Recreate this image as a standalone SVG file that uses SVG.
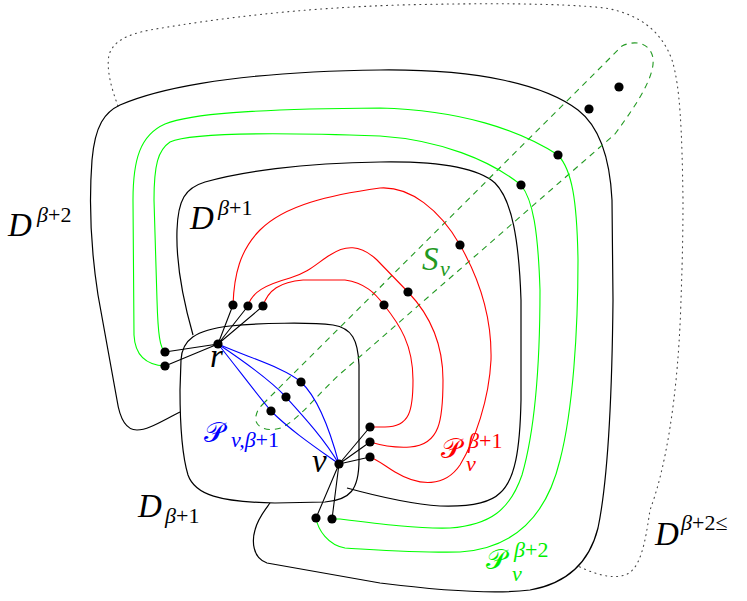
<svg xmlns="http://www.w3.org/2000/svg" width="747" height="601" viewBox="0 0 747 601">
<style>
.k{fill:none;stroke:#000;stroke-width:1.2}
.g{fill:none;stroke:#00ff00;stroke-width:1.1}
.rd{fill:none;stroke:#ff0000;stroke-width:1.1}
.b{fill:none;stroke:#0000ff;stroke-width:1.1}
.sv{fill:none;stroke:#229922;stroke-width:1.1;stroke-dasharray:6 5}
.dot{fill:none;stroke:#444;stroke-width:1.1;stroke-dasharray:1 4.5;stroke-linecap:round}
.e{fill:none;stroke:#000;stroke-width:1.1}
.n{fill:#000}
text{font-family:"Liberation Serif","DejaVu Serif",serif;font-style:italic}
.big{font-size:33px}
.sm{font-size:22px}
.up{font-style:normal}
.cal{font-family:"DejaVu Sans","DejaVu Serif","Noto Sans",sans-serif;font-style:normal;font-size:28px}
</style>
<g id="regions">
<path id="D-beta2-le" class="dot" d="M118,106 C112,90 106,70 109,55 C113,42 125,35 150,30 C220,18 300,8 400,5 C480,3 560,3 605,8 C640,14 662,32 672,60 C680,85 682,130 683,200 C683,240 682,270 681,300 C678,400 665,470 650,510 C645,545 640,570 625,575 C610,580 590,572 578,566"/>
<path id="D-beta2" class="k" d="M180,412 C160,422 148,430 137,430 C126,430 120,420 117,400 L98,295 C91,250 89,200 92,160 C95,125 105,112 120,105 C150,92 220,72 380,70 C480,69 545,85 578,110 C600,127 610,160 612,200 L613,300 C612,400 608,480 598,528 C590,560 570,583 530,590 C490,595 420,588 380,583 L267,563 C252,558 252,540 255,530 C258,518 265,510 270,503"/>
<path id="D-beta1-up" class="k" d="M193,335 C183,300 176,260 177,230 C178,200 185,188 205,182 C240,172 300,163 380,162 C440,161 478,168 495,183 C512,200 519,240 521,300 L521,400 C520,450 515,480 500,493 C490,503 470,507 440,506 C410,504 380,497 347,488"/>
<path id="D-beta1-low" class="k" d="M181,360 C182,340 195,330 230,326 C260,323 310,322 333,325 C352,328 358,340 359,365 L359,460 C359,490 350,500 325,502 L275,503 C220,502 195,495 188,475 C182,455 180,420 180,390 Z"/>
<path id="S_v" class="sv" d="M263,404 L622,46 C634,40 650,42 653,58 C655,75 640,100 615,134 L340,374 C318,394 300,418 283,427 C270,433 253,428 256,416 C257,410 260,407 263,404 Z"/>
</g>
<g id="connectors">
<path class="g" d="M165,366 C145,365 135,355 134,335 L133,200 C133,160 140,135 165,124 C190,114 250,109 380,108 C460,110 520,130 558,155 C572,170 577,200 578,260 C578,330 573,410 560,460 C548,510 520,548 460,552 C420,553 380,550 345,548 C328,545 318,530 316,518"/>
<path class="g" d="M165,352 C160,348 158,335 157,300 L154,200 C154,165 158,150 170,142 C185,135 240,131 380,136 C440,140 490,160 521,185 C533,200 538,230 540,290 C540,360 535,430 522,475 C510,510 490,525 450,528 C420,529 380,524 340,519 L332,519"/>
<path class="rd" d="M233,305 C234,275 240,250 260,230 C285,205 330,195 380,188 C410,186 440,210 460,245 C480,280 492,320 491,360 C489,400 475,440 460,465 C445,487 420,487 395,472 C385,466 378,460 370,457"/>
<path class="rd" d="M248,306 C252,292 265,285 290,278 C310,272 318,262 330,255 C345,245 360,244 377,260 L408,292 C430,315 443,345 443,380 C443,420 440,445 410,447 C395,448 380,445 370,442"/>
<path class="rd" d="M263,306 C268,290 280,282 303,280 L345,280 C365,283 375,293 384,305 C400,325 413,345 413,380 C413,410 410,427 385,427 L370,427"/>
<path class="b" d="M218,344 C250,358 285,368 301,382 C318,398 330,430 339,464"/>
<path class="b" d="M218,344 C245,362 270,380 286,397 C305,418 325,440 339,464"/>
<path class="b" d="M218,344 C235,365 255,392 271,411 C290,430 315,447 339,464"/>
<path class="e" d="M218,344 L233,305 M218,344 L248,306 M218,344 L263,306 M218,344 L165,352 M218,344 L165,366"/>
<path class="e" d="M339,464 L370,427 M339,464 L370,442 M339,464 L370,457 M339,464 L316,518 M339,464 L332,519"/>
</g>
<g id="node-r"><circle class="n" cx="218" cy="344" r="4.6"/></g>
<g id="node-v"><circle class="n" cx="339" cy="464" r="4.6"/></g>
<g id="vertices">
<circle class="n" cx="233" cy="305" r="4.6"/>
<circle class="n" cx="248" cy="306" r="4.6"/>
<circle class="n" cx="263" cy="306" r="4.6"/>
<circle class="n" cx="165" cy="352" r="4.6"/>
<circle class="n" cx="165" cy="366" r="4.6"/>
<circle class="n" cx="301" cy="382" r="4.6"/>
<circle class="n" cx="286" cy="397" r="4.6"/>
<circle class="n" cx="271" cy="411" r="4.6"/>
<circle class="n" cx="370" cy="427" r="4.6"/>
<circle class="n" cx="370" cy="442" r="4.6"/>
<circle class="n" cx="370" cy="457" r="4.6"/>
<circle class="n" cx="316" cy="518" r="4.6"/>
<circle class="n" cx="332" cy="519" r="4.6"/>
<circle class="n" cx="384" cy="305" r="4.6"/>
<circle class="n" cx="408" cy="292" r="4.6"/>
<circle class="n" cx="460" cy="245" r="4.6"/>
<circle class="n" cx="521" cy="185" r="4.6"/>
<circle class="n" cx="558" cy="155" r="4.6"/>
<circle class="n" cx="589" cy="109" r="4.6"/>
<circle class="n" cx="619" cy="87" r="4.6"/>
</g>
<g id="labels">
<text class="big" x="8" y="236">D</text><text class="sm" x="37" y="222">β<tspan class="up">+2</tspan></text>
<text class="big" x="190" y="229">D</text><text class="sm" x="218" y="215">β<tspan class="up">+1</tspan></text>
<text class="big" x="138" y="517">D</text><text class="sm" x="165" y="523">β<tspan class="up">+1</tspan></text>
<text class="big" x="655" y="545">D</text><text class="sm" x="681" y="530">β<tspan class="up">+2≤</tspan></text>
<text class="big" x="210" y="367">r</text>
<text class="big" x="312" y="472">v</text>
<text class="big" x="422" y="270" fill="#229922">S</text><text class="sm" x="440" y="276" fill="#229922">v</text>
<text class="cal" x="204" y="442" fill="#0000ff">𝒫</text><text class="sm" x="231" y="447" fill="#0000ff">v,β<tspan class="up">+1</tspan></text>
<text class="cal" x="441" y="458" fill="#ff0000">𝒫</text><text class="sm" x="468" y="448" fill="#ff0000">β<tspan class="up">+1</tspan></text><text class="sm" x="466" y="471" fill="#ff0000">v</text>
<text class="cal" x="486" y="569" fill="#00ee00">𝒫</text><text class="sm" x="514" y="557" fill="#00ee00">β<tspan class="up">+2</tspan></text><text class="sm" x="512" y="581" fill="#00ee00">v</text>
</g>
</svg>
